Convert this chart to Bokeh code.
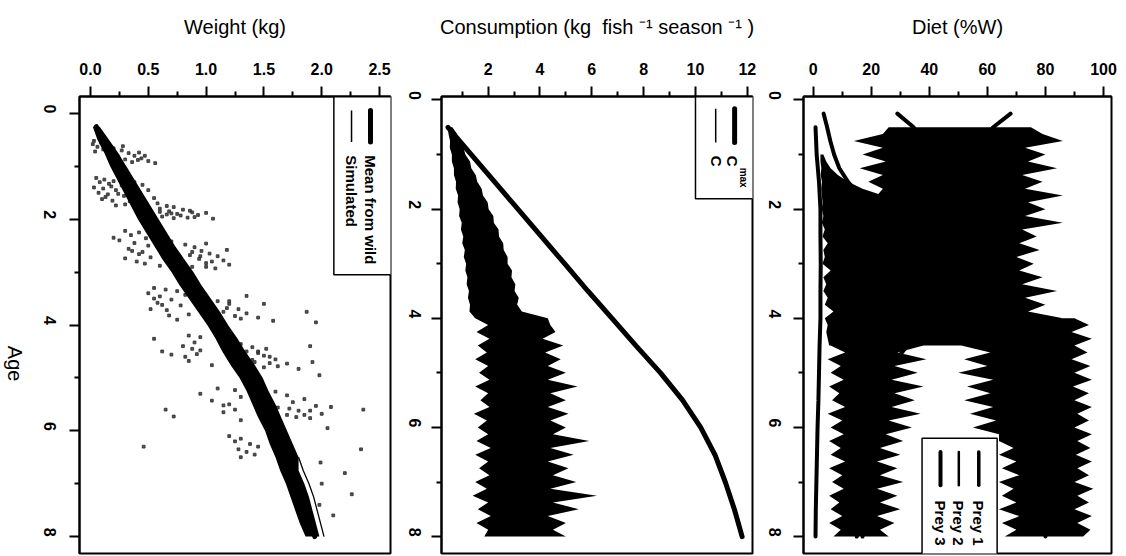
import math
from bokeh.plotting import figure
from bokeh.models import Range1d, FixedTicker, Label, NumeralTickFormatter
from bokeh.layouts import row
from bokeh.embed import file_html
from bokeh.resources import INLINE

FONT = "Liberation Sans"

# ---------------- Panel 1: weight ----------------
w_age = [0.25, 0.5, 0.75, 1.0, 1.25, 1.5, 1.75, 2.0, 2.25, 2.5, 2.75, 3.0, 3.25, 3.5, 3.75, 4.0,
         4.25, 4.5, 4.75, 5.0, 5.25, 5.5, 5.75, 6.0, 6.25, 6.5, 6.75, 7.0, 7.25, 7.5, 7.75, 8.0]
w_mean_wild = [0.05, 0.11, 0.18, 0.24, 0.31, 0.37, 0.43, 0.50, 0.57, 0.64, 0.71, 0.79, 0.86, 0.94, 1.02, 1.10,
               1.17, 1.24, 1.31, 1.38, 1.44, 1.50, 1.55, 1.60, 1.65, 1.70, 1.74, 1.79, 1.83, 1.87, 1.91, 1.94]
w_sim_lo = [0.02, 0.06, 0.12, 0.17, 0.23, 0.29, 0.35, 0.41, 0.48, 0.55, 0.62, 0.70, 0.77, 0.85, 0.93, 1.01,
            1.08, 1.14, 1.21, 1.29, 1.35, 1.40, 1.45, 1.51, 1.55, 1.60, 1.64, 1.69, 1.73, 1.77, 1.81, 1.86]
w_sim_hi = [0.08, 0.16, 0.24, 0.31, 0.38, 0.45, 0.52, 0.59, 0.66, 0.73, 0.81, 0.89, 0.96, 1.04, 1.12, 1.19,
            1.27, 1.34, 1.42, 1.49, 1.54, 1.60, 1.65, 1.70, 1.75, 1.80, 1.80, 1.85, 1.89, 1.92, 1.95, 1.98]
w_run_age = [6.5, 6.75, 7.0, 7.25, 7.5, 7.75, 8.0]
w_run = [1.80, 1.84, 1.89, 1.93, 1.96, 1.99, 2.02]

obs_a = [(0.52, 0.03), (0.55, 0.09), (0.58, 0.02), (0.60, 0.14), (0.63, 0.06), (0.66, 0.20), (0.68, 0.11),
         (0.70, 0.27), (0.72, 0.04), (0.75, 0.33), (0.77, 0.16), (0.80, 0.38), (0.82, 0.24), (0.85, 0.44),
         (0.87, 0.30), (0.90, 0.50), (0.92, 0.36), (0.94, 0.56), (0.80, 0.47), (0.88, 0.41), (0.62, 0.28),
         (0.74, 0.42)]
obs_b = [(1.22, 0.05), (1.25, 0.12), (1.28, 0.20), (1.30, 0.08), (1.33, 0.16), (1.36, 0.27), (1.40, 0.03),
         (1.42, 0.11), (1.45, 0.22), (1.48, 0.33), (1.50, 0.07), (1.53, 0.15), (1.56, 0.29), (1.60, 0.40),
         (1.62, 0.10), (1.65, 0.19), (1.68, 0.46), (1.70, 0.58), (1.72, 0.30), (1.75, 0.66), (1.77, 0.72),
         (1.80, 0.60), (1.82, 0.80), (1.85, 0.68), (1.87, 0.88), (1.90, 0.75), (1.92, 0.93), (1.95, 0.62),
         (1.97, 0.84), (1.99, 1.06), (1.60, 0.55), (1.45, 0.50), (1.35, 0.45), (1.88, 1.00), (1.30, 0.38)]
obs_c = [(2.22, 0.30), (2.25, 0.42), (2.28, 0.55), (2.30, 0.35), (2.33, 0.62), (2.36, 0.48), (2.40, 0.25),
         (2.42, 0.70), (2.45, 0.38), (2.48, 0.82), (2.50, 0.50), (2.53, 0.90), (2.56, 0.33), (2.60, 0.96),
         (2.62, 0.45), (2.65, 1.03), (2.68, 0.86), (2.70, 1.10), (2.72, 0.52), (2.75, 0.94), (2.78, 1.15),
         (2.80, 0.40), (2.83, 1.00), (2.86, 1.20), (2.90, 0.88), (2.93, 1.08), (2.58, 1.18), (2.46, 1.00),
         (2.35, 0.20), (2.88, 0.60)]
obs_d = [(3.30, 0.55), (3.33, 0.65), (3.36, 0.75), (3.40, 0.50), (3.43, 0.82), (3.46, 0.60), (3.50, 1.00),
         (3.52, 0.70), (3.55, 1.10), (3.58, 0.58), (3.60, 1.20), (3.63, 0.78), (3.66, 1.05), (3.70, 1.28),
         (3.72, 0.66), (3.75, 1.15), (3.78, 1.35), (3.80, 0.85), (3.83, 1.25), (3.86, 1.45), (3.90, 0.75),
         (3.92, 1.58), (3.75, 1.87), (3.60, 1.50), (3.45, 1.35)]
obs_e = [(4.20, 0.85), (4.23, 0.95), (4.26, 0.55), (4.30, 1.20), (4.33, 0.90), (4.36, 1.30), (4.40, 0.80),
         (4.42, 1.40), (4.45, 1.52), (4.48, 0.95), (4.50, 1.35), (4.53, 1.45), (4.56, 0.70), (4.60, 1.55),
         (4.62, 1.25), (4.65, 1.60), (4.68, 0.85), (4.70, 1.42), (4.73, 1.70), (4.76, 1.05), (4.80, 1.50),
         (4.83, 1.80), (4.40, 1.90), (4.70, 1.92), (4.50, 0.62)]
obs_f = [(5.20, 1.10), (5.23, 1.25), (5.26, 1.60), (5.30, 0.95), (5.33, 1.70), (5.36, 1.30), (5.40, 1.85),
         (5.43, 1.05), (5.46, 1.75), (5.50, 1.20), (5.53, 1.95), (5.56, 1.62), (5.60, 0.65), (5.62, 1.80),
         (5.65, 1.15), (5.68, 2.00), (5.70, 1.70), (5.73, 0.72), (5.76, 1.90), (5.80, 1.30), (5.55, 2.08),
         (5.45, 1.45)]
obs_g = [(6.15, 1.30), (6.20, 1.25), (6.25, 1.38), (6.30, 1.45), (6.35, 1.28), (6.40, 1.35), (6.45, 1.42),
         (6.50, 1.30), (6.30, 0.46), (6.35, 2.34), (6.60, 1.99), (5.60, 2.36), (6.10, 1.20)]
obs_h = [(7.00, 2.00), (6.80, 2.20), (7.20, 2.26), (7.60, 2.10), (7.40, 1.98), (5.95, 2.05), (4.95, 1.98),
         (3.95, 1.95)]
obs_extra = [(1.86, 0.60), (1.89, 0.70), (1.93, 0.78), (1.96, 0.90), (1.84, 0.86), (1.91, 0.66), (1.98, 0.72),
             (1.27, 0.28), (1.38, 0.18), (1.52, 0.24), (1.58, 0.13), (1.66, 0.34), (1.74, 0.22),
             (2.60, 0.36), (2.66, 0.42), (2.74, 0.30), (2.84, 0.47), (2.70, 0.95), (2.80, 1.05), (2.90, 1.00),
             (2.62, 0.88), (3.50, 0.55), (3.62, 0.62), (3.70, 0.52), (3.82, 0.68), (3.55, 1.20), (3.68, 1.18),
             (3.80, 1.10), (3.88, 1.30), (4.45, 0.88), (4.55, 0.92), (4.60, 0.82), (4.50, 1.45), (4.58, 1.50),
             (4.66, 1.40), (4.72, 1.55), (4.78, 1.62), (5.58, 1.72), (5.62, 1.90), (5.70, 1.85), (5.74, 1.78),
             (5.52, 1.15), (5.60, 1.25)]

# ---------------- Panel 2: consumption ----------------
cmax_age = [0.5, 1.0, 1.5, 2.0, 2.5, 3.0, 3.5, 4.0, 4.5, 5.0, 5.5, 6.0, 6.5, 7.0, 7.5, 8.0]
cmax = [0.45, 1.35, 2.25, 3.15, 4.05, 4.95, 5.85, 6.78, 7.7, 8.65, 9.5, 10.2, 10.75, 11.15, 11.5, 11.8]
c_age = [0.5 + 0.125 * i for i in range(61)]
c_lo = [0.45, 0.47, 0.53, 0.52, 0.60, 0.60, 0.68, 0.68, 0.76, 0.75, 0.84, 0.82, 0.90, 0.88, 0.98, 0.95,
        1.04, 1.00, 1.10, 1.06, 1.15, 1.12, 1.20, 1.17, 1.26, 1.22, 1.30, 1.28, 1.50,
        2.0, 1.55, 2.05, 1.6, 1.95, 1.5, 2.0, 1.65, 2.05, 1.5, 2.0, 1.7, 2.05, 1.45, 1.95, 1.6,
        2.0, 1.55, 2.1, 1.5, 2.0, 1.65, 2.05, 1.5, 1.95, 1.4, 2.0, 1.6, 2.1, 1.55, 2.0, 1.85]
c_hi = [0.62, 0.80, 0.88, 1.05, 1.12, 1.30, 1.35, 1.52, 1.58, 1.75, 1.80, 1.98, 2.02, 2.20, 2.22, 2.40,
        2.42, 2.58, 2.60, 2.75, 2.75, 2.92, 2.90, 3.05, 3.02, 3.18, 3.12, 3.30, 4.30,
        4.4, 4.6, 4.1, 4.9, 4.2, 4.8, 4.3, 5.0, 4.3, 5.45, 4.4, 5.0, 4.3, 5.1, 4.4, 5.0,
        4.5, 5.9, 4.4, 5.3, 4.3, 5.1, 4.5, 5.4, 4.4, 6.2, 4.5, 5.5, 4.3, 5.0, 4.5, 5.0]

# ---------------- Panel 3: diet ----------------
cb_age = [0.5 + 0.125 * i for i in range(33)]
cb_lo = [26, 24, 14, 24, 17, 25, 16, 24, 19, 24, 22, 25, 23, 24, 22, 25, 23, 24, 22, 25, 23, 24, 22, 25,
         23, 24, 22, 25, 23, 24, 22, 25, 24]
cb_hi = [75, 79, 86, 73, 80, 74, 84, 72, 79, 73, 86, 74, 80, 73, 86, 72, 77, 71, 78, 70, 76, 71, 79, 72,
         84, 73, 80, 74, 86, 76, 82, 74, 70]
lm_age = [1.0 + 0.125 * i for i in range(29)]
lm_lo = [2.5, 2.5, 2.8, 2.6, 3.0, 2.8, 3.0, 3.2, 3.0, 3.5, 3.0, 4.0, 3.2, 5.0, 3.5, 4.0, 3.2, 6.0, 3.5, 4.5,
         3.5, 5.0, 4.0, 7.0, 4.0, 5.0, 4.5, 5.0, 5.5]
lm_hi = [3.5, 4.5, 6, 8.5, 12, 17, 24] + [30] * 22
lobe_age = [4.0 + 0.125 * i for i in range(33)]
ll_lo = [5, 9, 5.5, 10, 6, 11, 5, 9.5, 6, 10.5, 5.5, 9, 6.5, 11, 5, 10, 6, 10.5, 5.5, 9.5, 6, 11, 5.5, 10,
         6.5, 10.5, 5.5, 9, 6, 10, 5.5, 9.5, 7]
ll_hi = [38, 30, 40, 31, 38, 29, 39, 28, 36, 27, 38, 28, 35, 27, 37, 26, 34, 25, 31, 23, 30, 22, 29, 23,
         31, 22, 29, 23, 30, 22, 28, 23, 26]
rl_lo = [50, 58, 49, 60, 51, 61, 52, 60, 50, 62, 53, 61, 52, 62, 54, 63, 55, 64, 64, 69, 64, 70, 65, 71,
         64, 69, 65, 70, 64, 71, 65, 70, 66]
rl_hi = [90, 95, 89, 96, 90, 94.5, 89, 95.5, 90, 96, 89.5, 95, 90, 96, 91, 95, 90, 96, 91, 95.5, 90.5, 96,
         91, 95, 90, 96.5, 91, 95, 90, 96, 91, 95.5, 93]
low3_age = [0.5, 1.0, 1.5, 2.0, 2.5, 3.0, 3.5, 4.0, 4.5, 5.0, 5.5, 6.0, 6.5, 7.0, 7.5, 8.0]
low3 = [0.8, 1.2, 2.0, 2.5, 2.5, 2.6, 2.5, 2.5, 2.2, 2.0, 1.8, 1.5, 1.3, 1.1, 0.9, 0.8]
mean_age = [0.25, 0.5, 1, 2, 3, 4, 5, 6, 7, 8]
prey1_mean = [68, 62, 55, 50, 50, 58, 75, 78, 80, 80]
prey2_mean = [29, 34.6, 40, 45, 45, 40, 25, 22, 18, 17]
prey3_age = [0.25, 0.5, 0.75, 1.0, 1.25, 1.5, 1.75, 2.0, 3, 4, 5, 6, 7, 8]
prey3_mean = [3.6, 4.8, 5.9, 7.2, 9.0, 12, 16, 19, 20, 18, 17, 16, 16, 15]


def make_fig(width, xr, yr, left, right, xticks, xminor, standoff_y, title):
    p = figure(width=width, height=556, x_range=Range1d(*xr), y_range=Range1d(*yr),
               x_axis_location="above", y_axis_location="left",
               output_backend="svg", toolbar_location=None,
               min_border_left=left, min_border_right=right, min_border_top=96, min_border_bottom=3)
    p.grid.visible = False
    p.outline_line_color = "black"
    p.outline_line_width = 2
    p.background_fill_color = "white"
    p.border_fill_color = "white"
    xa = p.xaxis[0]
    xa.ticker = FixedTicker(ticks=xticks, minor_ticks=xminor)
    ya = p.yaxis[0]
    ya.ticker = FixedTicker(ticks=[0, 2, 4, 6, 8], minor_ticks=[1, 3, 5, 7])
    ya.major_label_orientation = -math.pi / 2
    for ax in (xa, ya):
        ax.major_tick_out = 10
        ax.major_tick_in = 0
        ax.minor_tick_out = 5
        ax.minor_tick_in = 0
        ax.axis_line_width = 2
        ax.major_tick_line_width = 2
        ax.minor_tick_line_width = 2
        ax.axis_line_color = "black"
        ax.major_tick_line_color = "black"
        ax.minor_tick_line_color = "black"
        ax.major_label_text_font = FONT
        ax.major_label_text_font_size = "16px"
        ax.major_label_text_font_style = "bold"
        ax.major_label_text_color = "black"
        ax.axis_label_text_font = FONT
        ax.axis_label_text_font_size = "20px"
        ax.axis_label_text_font_style = "normal"
        ax.axis_label_text_color = "black"
    xa.major_label_standoff = 12
    ya.major_label_standoff = standoff_y
    xa.axis_label = title
    xa.axis_label_standoff = 22
    return p


def lab(p, x, y, text, size="15px", angle=-math.pi / 2, align="left", baseline="middle", style="bold"):
    p.add_layout(Label(x=x, y=y, text=text, angle=angle, text_align=align, text_baseline=baseline,
                       text_font=FONT, text_font_size=size, text_font_style=style, text_color="black"))


# ---------- narrow strip holding the shared "Age" axis title ----------
p0 = figure(width=27, height=556, x_range=Range1d(0, 27), y_range=Range1d(0, 556),
            output_backend="svg", toolbar_location=None, title=None,
            x_axis_location=None, y_axis_location=None,
            min_border_left=0, min_border_right=0, min_border_top=0, min_border_bottom=0)
p0.grid.visible = False
p0.outline_line_color = None
p0.background_fill_color = "white"
p0.border_fill_color = "white"
p0.add_layout(Label(x=14, y=556 - 325, text="Age", angle=-math.pi / 2, text_align="center",
                    text_baseline="middle", text_font=FONT, text_font_size="20px", text_color="black"))

# ---------- figure 1 ----------
p1 = make_fig(368, (-0.095, 2.595), (8.32, -0.32), 52, 5,
              [0, 0.5, 1.0, 1.5, 2.0, 2.5], [0.25, 0.75, 1.25, 1.75, 2.25], 20, "Weight (kg)")
p1.xaxis[0].formatter = NumeralTickFormatter(format="0.0")
for cl in (obs_a, obs_b, obs_c, obs_d, obs_e, obs_f, obs_g, obs_h, obs_extra):
    p1.scatter([c[1] for c in cl], [c[0] for c in cl], marker="square", size=2.8,
               color="#333333", alpha=0.85)
p1.harea(y=w_age, x1=w_sim_lo, x2=w_sim_hi, fill_color="black")
p1.line(w_run, w_run_age, line_width=1.3, color="black")
p1.line(w_mean_wild, w_age, line_width=5, color="black", line_cap="round")
p1.quad(left=2.105, right=3.0, top=-1.0, bottom=3.05, fill_color="white", line_color="black", line_width=1.5)
p1.line([2.422, 2.422], [-0.056, 0.54], line_width=5, color="black", line_cap="round")
p1.line([2.258, 2.258], [-0.056, 0.54], line_width=1.5, color="black")
lab(p1, 2.422, 0.79, "Mean from wild")
lab(p1, 2.258, 0.79, "Simulated")

# ---------- figure 2 ----------
p2 = make_fig(362, (0.2, 12.2), (8.31, -0.064), 46, 5,
              [2, 4, 6, 8, 10, 12], [1, 3, 5, 7, 9, 11], 17,
              "Consumption (kg\u00a0 fish \u207b\u00b9 season \u207b\u00b9 )")
p2.harea(y=c_age, x1=c_lo, x2=c_hi, fill_color="black")
p2.line(cmax, cmax_age, line_width=5, color="black", line_cap="round")
p2.quad(left=10.0, right=13.0, top=-1.0, bottom=1.81, fill_color="white", line_color="black", line_width=1.5)
p2.line([11.51, 11.51], [0.16, 0.78], line_width=5, color="black", line_cap="round")
p2.line([10.78, 10.78], [0.16, 0.78], line_width=1.5, color="black")
lab(p2, 11.42, 1.02, "C")
lab(p2, 11.87, 1.24, "max", "10px")
lab(p2, 10.81, 1.02, "C")

# ---------- figure 3 ----------
p3 = make_fig(369, (-3.34, 102.76), (8.31, -0.064), 46, 15,
              [0, 20, 40, 60, 80, 100], [10, 30, 50, 70, 90], 19, "Diet (%W)")
p3.harea(y=cb_age, x1=cb_lo, x2=cb_hi, fill_color="black")
p3.harea(y=lm_age, x1=lm_lo, x2=lm_hi, fill_color="black")
p3.harea(y=lobe_age, x1=ll_lo, x2=ll_hi, fill_color="black")
p3.harea(y=lobe_age, x1=rl_lo, x2=rl_hi, fill_color="black")
p3.line(low3, low3_age, line_width=4, color="black", line_cap="round")
p3.line(prey1_mean, mean_age, line_width=4, color="black", line_cap="round")
p3.line(prey2_mean, mean_age, line_width=4, color="black", line_cap="round")
p3.line(prey3_mean, prey3_age, line_width=4, color="black", line_cap="round")
p3.quad(left=37.5, right=63.36, top=6.2, bottom=9.5, fill_color="white", line_color="black", line_width=1.5)
for xv, lw, name in ((57.04, 3.5, "Prey 1"), (50.16, 2.5, "Prey 2"), (43.85, 4, "Prey 3")):
    p3.line([xv, xv], [6.45, 7.06], line_width=lw, color="black", line_cap="round")
    lab(p3, xv, 7.34, name)

layout = row(p0, p1, p2, p3)
open("out.html", "w").write(file_html(layout, INLINE))
